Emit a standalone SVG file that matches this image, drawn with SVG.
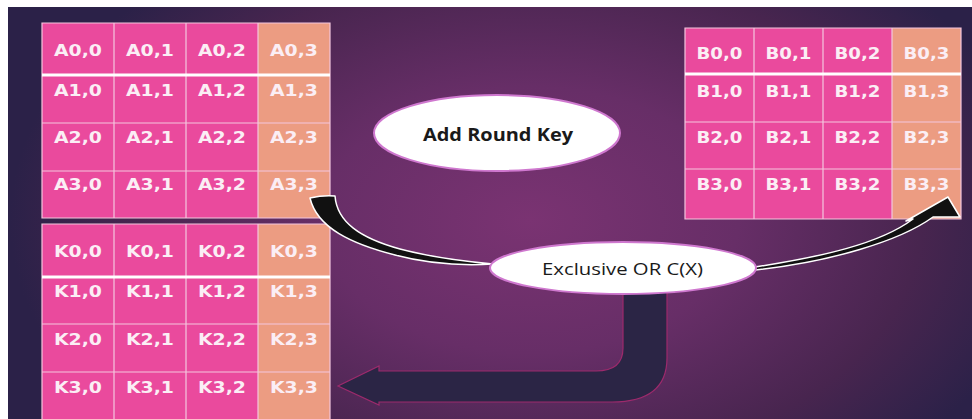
<svg xmlns="http://www.w3.org/2000/svg" width="972" height="419" viewBox="0 0 972 419">
  <defs>
    <radialGradient id="bg" gradientUnits="userSpaceOnUse" cx="530" cy="220" r="520" gradientTransform="translate(0,220) scale(1,0.64) translate(0,-220)">
      <stop offset="0" stop-color="#7a3372"/>
      <stop offset="0.4" stop-color="#672e67"/>
      <stop offset="0.75" stop-color="#48254f"/>
      <stop offset="1" stop-color="#2b2148"/>
    </radialGradient>
    <style>
      .pk { fill: #ea4a9d; }
      .pc { fill: #ec9c82; }
      .grid { stroke: #f4c6de; stroke-width: 1.2; fill: none; }
      .hdr { stroke: #ffffff; stroke-width: 3; }
      .cell { font-family: "DejaVu Sans", "Liberation Sans", sans-serif; font-weight: bold; font-size: 15.5px; fill: #fbeef5; text-anchor: middle; }
      .oval { fill: #ffffff; stroke: #cf78cf; stroke-width: 2; }
      .lbl { font-family: "Open Sans", "Liberation Sans", sans-serif; font-size: 17px; fill: #1a1a1a; text-anchor: middle; }
      .blk { fill: #111111; stroke: #ffffff; stroke-width: 1.5; stroke-linejoin: round; }
      .navy { fill: #2b2545; stroke: #9c2a6c; stroke-width: 1.2; }
    </style>
  </defs>

  <rect x="0" y="0" width="972" height="419" fill="#ffffff"/>
  <rect x="8" y="7" width="964" height="412" fill="url(#bg)"/>

  <!-- state matrix A -->
  <g id="matrix-a">
    <rect class="pk" x="42" y="23" width="216" height="195"/>
    <rect class="pc" x="258" y="23" width="72" height="195"/>
    <path class="grid" d="M42,23 H330 V218 H42 Z M114,23 V218 M186,23 V218 M258,23 V218 M42,123 H330 M42,171 H330"/>
    <line class="hdr" x1="42" y1="75" x2="330" y2="75"/>
    <text class="cell" x="78" y="55.5" textLength="48" lengthAdjust="spacingAndGlyphs">A0,0</text>
    <text class="cell" x="150" y="55.5" textLength="48" lengthAdjust="spacingAndGlyphs">A0,1</text>
    <text class="cell" x="222" y="55.5" textLength="48" lengthAdjust="spacingAndGlyphs">A0,2</text>
    <text class="cell" x="294" y="55.5" textLength="48" lengthAdjust="spacingAndGlyphs">A0,3</text>
    <text class="cell" x="78" y="95.5" textLength="48" lengthAdjust="spacingAndGlyphs">A1,0</text>
    <text class="cell" x="150" y="95.5" textLength="48" lengthAdjust="spacingAndGlyphs">A1,1</text>
    <text class="cell" x="222" y="95.5" textLength="48" lengthAdjust="spacingAndGlyphs">A1,2</text>
    <text class="cell" x="294" y="95.5" textLength="48" lengthAdjust="spacingAndGlyphs">A1,3</text>
    <text class="cell" x="78" y="142.5" textLength="48" lengthAdjust="spacingAndGlyphs">A2,0</text>
    <text class="cell" x="150" y="142.5" textLength="48" lengthAdjust="spacingAndGlyphs">A2,1</text>
    <text class="cell" x="222" y="142.5" textLength="48" lengthAdjust="spacingAndGlyphs">A2,2</text>
    <text class="cell" x="294" y="142.5" textLength="48" lengthAdjust="spacingAndGlyphs">A2,3</text>
    <text class="cell" x="78" y="189.5" textLength="48" lengthAdjust="spacingAndGlyphs">A3,0</text>
    <text class="cell" x="150" y="189.5" textLength="48" lengthAdjust="spacingAndGlyphs">A3,1</text>
    <text class="cell" x="222" y="189.5" textLength="48" lengthAdjust="spacingAndGlyphs">A3,2</text>
    <text class="cell" x="294" y="189.5" textLength="48" lengthAdjust="spacingAndGlyphs">A3,3</text>
  </g>

  <!-- round key matrix K -->
  <g id="matrix-k">
    <rect class="pk" x="42" y="224" width="216" height="200"/>
    <rect class="pc" x="258" y="224" width="72" height="200"/>
    <path class="grid" d="M42,424 V224 H330 V424 M114,224 V424 M186,224 V424 M258,224 V424 M42,324 H330 M42,372 H330"/>
    <line class="hdr" x1="42" y1="277" x2="330" y2="277"/>
    <text class="cell" x="78" y="256.5" textLength="48" lengthAdjust="spacingAndGlyphs">K0,0</text>
    <text class="cell" x="150" y="256.5" textLength="48" lengthAdjust="spacingAndGlyphs">K0,1</text>
    <text class="cell" x="222" y="256.5" textLength="48" lengthAdjust="spacingAndGlyphs">K0,2</text>
    <text class="cell" x="294" y="256.5" textLength="48" lengthAdjust="spacingAndGlyphs">K0,3</text>
    <text class="cell" x="78" y="296.5" textLength="48" lengthAdjust="spacingAndGlyphs">K1,0</text>
    <text class="cell" x="150" y="296.5" textLength="48" lengthAdjust="spacingAndGlyphs">K1,1</text>
    <text class="cell" x="222" y="296.5" textLength="48" lengthAdjust="spacingAndGlyphs">K1,2</text>
    <text class="cell" x="294" y="296.5" textLength="48" lengthAdjust="spacingAndGlyphs">K1,3</text>
    <text class="cell" x="78" y="344.5" textLength="48" lengthAdjust="spacingAndGlyphs">K2,0</text>
    <text class="cell" x="150" y="344.5" textLength="48" lengthAdjust="spacingAndGlyphs">K2,1</text>
    <text class="cell" x="222" y="344.5" textLength="48" lengthAdjust="spacingAndGlyphs">K2,2</text>
    <text class="cell" x="294" y="344.5" textLength="48" lengthAdjust="spacingAndGlyphs">K2,3</text>
    <text class="cell" x="78" y="392.5" textLength="48" lengthAdjust="spacingAndGlyphs">K3,0</text>
    <text class="cell" x="150" y="392.5" textLength="48" lengthAdjust="spacingAndGlyphs">K3,1</text>
    <text class="cell" x="222" y="392.5" textLength="48" lengthAdjust="spacingAndGlyphs">K3,2</text>
    <text class="cell" x="294" y="392.5" textLength="48" lengthAdjust="spacingAndGlyphs">K3,3</text>
  </g>

  <!-- output matrix B -->
  <g id="matrix-b">
    <rect class="pk" x="685" y="28" width="207" height="191"/>
    <rect class="pc" x="892" y="28" width="69" height="191"/>
    <path class="grid" d="M685,28 H961 V219 H685 Z M754,28 V219 M823,28 V219 M892,28 V219 M685,122 H961 M685,169 H961"/>
    <line class="hdr" x1="685" y1="74" x2="961" y2="74"/>
    <text class="cell" x="719.5" y="58.5" textLength="46" lengthAdjust="spacingAndGlyphs">B0,0</text>
    <text class="cell" x="788.5" y="58.5" textLength="46" lengthAdjust="spacingAndGlyphs">B0,1</text>
    <text class="cell" x="857.5" y="58.5" textLength="46" lengthAdjust="spacingAndGlyphs">B0,2</text>
    <text class="cell" x="926.5" y="58.5" textLength="46" lengthAdjust="spacingAndGlyphs">B0,3</text>
    <text class="cell" x="719.5" y="96.5" textLength="46" lengthAdjust="spacingAndGlyphs">B1,0</text>
    <text class="cell" x="788.5" y="96.5" textLength="46" lengthAdjust="spacingAndGlyphs">B1,1</text>
    <text class="cell" x="857.5" y="96.5" textLength="46" lengthAdjust="spacingAndGlyphs">B1,2</text>
    <text class="cell" x="926.5" y="96.5" textLength="46" lengthAdjust="spacingAndGlyphs">B1,3</text>
    <text class="cell" x="719.5" y="142.5" textLength="46" lengthAdjust="spacingAndGlyphs">B2,0</text>
    <text class="cell" x="788.5" y="142.5" textLength="46" lengthAdjust="spacingAndGlyphs">B2,1</text>
    <text class="cell" x="857.5" y="142.5" textLength="46" lengthAdjust="spacingAndGlyphs">B2,2</text>
    <text class="cell" x="926.5" y="142.5" textLength="46" lengthAdjust="spacingAndGlyphs">B2,3</text>
    <text class="cell" x="719.5" y="189.5" textLength="46" lengthAdjust="spacingAndGlyphs">B3,0</text>
    <text class="cell" x="788.5" y="189.5" textLength="46" lengthAdjust="spacingAndGlyphs">B3,1</text>
    <text class="cell" x="857.5" y="189.5" textLength="46" lengthAdjust="spacingAndGlyphs">B3,2</text>
    <text class="cell" x="926.5" y="189.5" textLength="46" lengthAdjust="spacingAndGlyphs">B3,3</text>
  </g>

  <!-- connectors -->
  <g id="connectors">
    <!-- key path back to K3,3 -->
    <path class="navy" d="M623,285 L623,348 Q623,371 596,371 L379,371 L379,366 L338,386 L379,405 L379,402 L612,402 Q667,402 667,358 L667,285 Z"/>
    <!-- A3,3 into the XOR -->
    <path class="blk" d="M310,198 Q323,195 335,196 C337,222 360,238 400,249 C430,257 460,261 493,264 C460,266 425,263 395,255 C352,244 317,228 310,198 Z"/>
    <!-- XOR out to B3,3 -->
    <path class="blk" d="M755,267 C820,257 880,244 913,219 L906,221 L948,197 L960,217 L933,217 C900,241 830,262 755,270 Z"/>
  </g>

  <g id="add-round-key">
    <ellipse class="oval" cx="497" cy="133" rx="123" ry="38"/>
    <text class="lbl" x="498" y="141" font-weight="bold" textLength="150" lengthAdjust="spacingAndGlyphs">Add Round Key</text>
  </g>

  <g id="xor">
    <ellipse class="oval" cx="623" cy="268" rx="133" ry="26"/>
    <text class="lbl" x="622.5" y="275" textLength="161" lengthAdjust="spacingAndGlyphs">Exclusive OR C(X)</text>
  </g>
</svg>
